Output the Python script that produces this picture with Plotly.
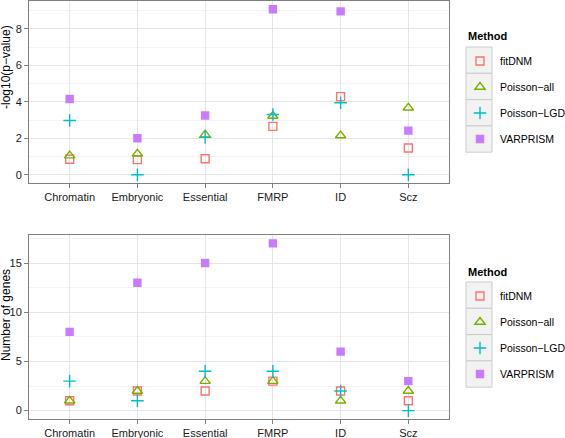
import plotly.graph_objects as go

categories = ["Chromatin", "Embryonic", "Essential", "FMRP", "ID", "Scz"]
methods = ["fitDNM", "Poisson−all", "Poisson−LGD", "VARPRISM"]

# -log10(p-value)
pval_fitDNM = [0.85, 0.83, 0.88, 2.65, 4.28, 1.47]
pval_poisson_all = [1.05, 1.15, 2.2, 3.22, 2.15, 3.67]
pval_poisson_lgd = [2.97, 0.0, 2.05, 3.3, 3.95, 0.0]
pval_varprism = [4.15, 2.0, 3.25, 9.07, 8.95, 2.42]

# Number of genes
genes_fitDNM = [1, 2, 2, 3, 2, 1]
genes_poisson_all = [1, 2, 3, 3, 1, 2]
genes_poisson_lgd = [3, 1, 4, 4, 2, 0]
genes_varprism = [8, 13, 15, 17, 6, 3]

colors = ["#F8766D", "#7CAE00", "#00BFC4", "#C77CFF"]
symbols = ["square-open", "triangle-up-open", "cross-thin-open", "square"]
sizes = [8, 9, 9, 7]

pvals = [pval_fitDNM, pval_poisson_all, pval_poisson_lgd, pval_varprism]
genes = [genes_fitDNM, genes_poisson_all, genes_poisson_lgd, genes_varprism]

fig = go.Figure()
for i, m in enumerate(methods):
    mk = dict(color=colors[i], symbol=symbols[i], size=sizes[i],
              line=dict(color=colors[i], width=1.4))
    fig.add_trace(go.Scatter(x=categories, y=pvals[i], mode="markers", name=m,
                             marker=mk, xaxis="x", yaxis="y", legend="legend",
                             legendgroup="a" + str(i)))
    fig.add_trace(go.Scatter(x=categories, y=genes[i], mode="markers", name=m,
                             marker=mk, xaxis="x2", yaxis="y2", legend="legend2",
                             legendgroup="b" + str(i)))

axfont = dict(family="Liberation Sans, Arial, sans-serif", size=11, color="#1a1a1a")
common = dict(showline=True, mirror=True, linecolor="#7f7f7f", linewidth=1,
              ticks="outside", ticklen=4, tickcolor="#7f7f7f", tickfont=axfont,
              gridcolor="#e5e5e5", gridwidth=1, zeroline=False)

W, H, L, R, T, B = 565, 438, 29, 116, 1, 19
PW, PH = W - L - R, H - T - B


def px_x(x):
    return (x - L) / PW


def px_y(y):
    return 1 - (y - T) / PH


fig.update_layout(
    width=W, height=H,
    margin=dict(l=L, r=R, t=T, b=B, autoexpand=False),
    paper_bgcolor="white", plot_bgcolor="white",
    font=dict(family="Liberation Sans, Arial, sans-serif", size=11, color="black"),
    xaxis=dict(domain=[0, 1], anchor="y", range=[-0.6, 5.6], **common),
    yaxis=dict(domain=[px_y(183), 1], anchor="x", range=[-0.45, 9.52], dtick=2,
               minor=dict(dtick=1, showgrid=True, gridcolor="#f3f3f3", gridwidth=1, ticks=""),
               **common),
    xaxis2=dict(domain=[0, 1], anchor="y2", range=[-0.6, 5.6], **common),
    yaxis2=dict(domain=[0, px_y(235)], anchor="x2", range=[-0.85, 17.85], dtick=5,
                minor=dict(dtick=2.5, showgrid=True, gridcolor="#f3f3f3", gridwidth=1, ticks=""),
                **common),
    legend=dict(x=px_x(460), xanchor="left", y=px_y(46.5), yanchor="top",
                bgcolor="rgba(0,0,0,0)",
                traceorder="grouped", tracegroupgap=7, font=dict(size=10.5)),
    legend2=dict(x=px_x(460), xanchor="left", y=px_y(281.5), yanchor="top",
                 bgcolor="rgba(0,0,0,0)",
                 traceorder="grouped", tracegroupgap=7, font=dict(size=10.5)),
)

# legend titles
for ty in (36, 272):
    fig.add_annotation(text="<b>Method</b>", xref="paper", yref="paper", x=px_x(466),
                       y=px_y(ty), xanchor="left", yanchor="middle", showarrow=False,
                       font=dict(size=11, color="black"))

# legend key boxes
for top in (47, 282):
    for k in range(4):
        y0 = top + k * 26.3
        fig.add_shape(type="rect", xref="paper", yref="paper",
                      x0=px_x(466), x1=px_x(492), y0=px_y(y0), y1=px_y(y0 + 26.3),
                      fillcolor="#f2f2f2", line=dict(color="#cccccc", width=1),
                      layer="below")

fig.add_annotation(text="-log10(p−value)", xref="paper", yref="paper", x=0, xshift=-23,
                   y=px_y(67), textangle=-90, showarrow=False,
                   font=dict(size=12, color="black"), xanchor="center", yanchor="middle")
fig.add_annotation(text="Number of genes", xref="paper", yref="paper", x=0, xshift=-23,
                   y=px_y(315), textangle=-90, showarrow=False,
                   font=dict(size=12, color="black"), xanchor="center", yanchor="middle")

fig.write_html("out.html", config={"displayModeBar": False},
               post_script="document.body.style.margin='0';")
